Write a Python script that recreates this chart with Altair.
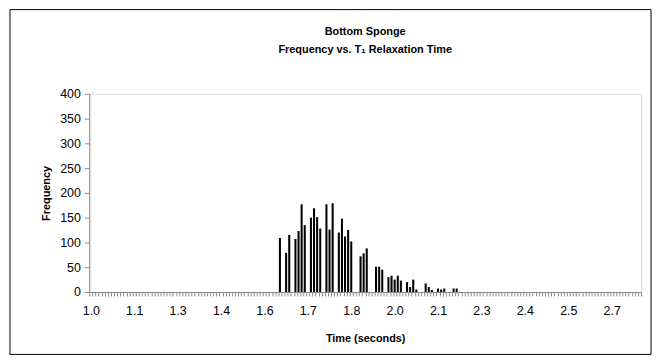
import altair as alt
import pandas as pd

# Category axis: T1 bins from 1.00 s to 2.77 s, one per 0.01 s
t1_bins = [round(1.00 + 0.01 * i, 2) for i in range(178)]

# Non-empty bins
peak_times = [1.61, 1.63, 1.64, 1.66, 1.67, 1.68, 1.69,
              1.71, 1.72, 1.73, 1.74, 1.76, 1.77, 1.78,
              1.80, 1.81, 1.82, 1.83, 1.84, 1.87, 1.88, 1.89,
              1.92, 1.93, 1.94, 1.96, 1.97, 1.98, 1.99, 2.00,
              2.02, 2.03, 2.04, 2.05, 2.08, 2.09, 2.10,
              2.12, 2.13, 2.14, 2.17, 2.18]
peak_counts = [109, 79, 115, 107, 123, 177, 135,
               150, 169, 151, 128, 177, 126, 179,
               120, 148, 112, 125, 102, 72, 78, 88,
               51, 51, 45, 30, 33, 25, 33, 23,
               20, 10, 25, 5, 17, 10, 4,
               7, 5, 7, 7, 7]

y_ticks = [0, 50, 100, 150, 200, 250, 300, 350, 400]
title_lines = ["Bottom Sponge", "Frequency vs. T\u2081 Relaxation Time"]

counts = {f"{t:.2f}": c for t, c in zip(peak_times, peak_counts)}
categories = [f"{t:.2f}" for t in t1_bins]
df = pd.DataFrame({"t1": categories, "freq": [counts.get(k, 0) for k in categories]})

FONT = "Liberation Sans"
W, H = 557, 200

label_expr = ("(round(toNumber(datum.value)*100) - 100) % 14 == 0 ? "
              "format(toNumber(datum.value), '.1f') : ''")

bars = alt.Chart(df).mark_bar(color="black", width=alt.RelativeBandSize(0.66)).encode(
    x=alt.X("t1:N",
            scale=alt.Scale(domain=categories, paddingInner=0, paddingOuter=0),
            sort=categories,
            axis=alt.Axis(values=categories, labelExpr=label_expr, tickBand="extent",
                          tickSize=4, labelAngle=0, labelOverlap=False, labelPadding=9,
                          labelFontSize=12.5,
                          title="Time (seconds)", titlePadding=15)),
    y=alt.Y("freq:Q",
            scale=alt.Scale(domain=[0, 400], nice=False),
            axis=alt.Axis(values=y_ticks, tickSize=5, grid=False, labelPadding=4,
                          labelFontSize=12.5,
                          title="Frequency", titlePadding=8)),
)

frame = alt.Chart(pd.DataFrame({"a": [0]})).mark_rect(
    fillOpacity=0, stroke="black", strokeWidth=1
).encode(
    x=alt.value(-80), x2=alt.value(567), y=alt.value(-85), y2=alt.value(263)
)


def title_line(text, ypos):
    return alt.Chart(pd.DataFrame({"line": [text]})).mark_text(
        font=FONT, fontSize=11, fontWeight="bold", color="black",
        baseline="middle", align="center"
    ).encode(text="line:N", x=alt.value(W / 2), y=alt.value(ypos))


chart = alt.layer(
    bars, frame, title_line(title_lines[0], -62), title_line(title_lines[1], -44)
).properties(
    width=W, height=H,
    autosize=alt.AutoSizeParams(type="none"),
    padding={"left": 82, "top": 85, "right": 15, "bottom": 64},
).configure_view(
    stroke="#808080", strokeWidth=1
).configure_axis(
    labelFont=FONT, titleFont=FONT, titleFontSize=13,
    titleFontWeight="bold", labelColor="black", titleColor="black",
    domainColor="black", tickColor="black", domainWidth=1.5, tickWidth=1
).configure(background="white")

chart.save("out.html", embed_options={"renderer": "svg", "actions": False})
